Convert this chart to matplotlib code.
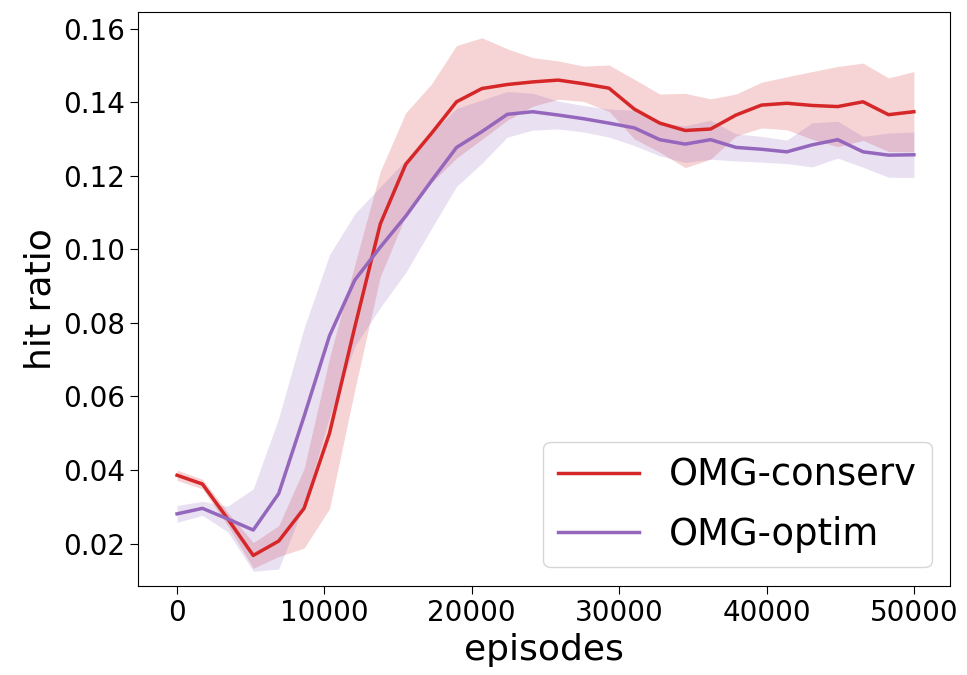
import matplotlib
matplotlib.use("Agg")
import matplotlib.pyplot as plt
import numpy as np

episodes = [0, 1724, 3448, 5172, 6897, 8621, 10345, 12069, 13793, 15517,
            17241, 18966, 20690, 22414, 24138, 25862, 27586, 29310, 31034, 32759,
            34483, 36207, 37931, 39655, 41379, 43103, 44828, 46552, 48276, 50000]

conserv_mean = [0.0386, 0.0362, 0.0267, 0.0168, 0.0207, 0.0296, 0.0500, 0.0790, 0.1069, 0.1231,
                0.1314, 0.1401, 0.1437, 0.1448, 0.1455, 0.1460, 0.1450, 0.1438, 0.1381, 0.1343,
                0.1323, 0.1327, 0.1365, 0.1392, 0.1397, 0.1391, 0.1388, 0.1401, 0.1366, 0.1374]
conserv_std = [0.0014, 0.0013, 0.0018, 0.0035, 0.0042, 0.0108, 0.0205, 0.0170, 0.0143, 0.0140,
               0.0134, 0.0153, 0.0138, 0.0097, 0.0066, 0.0052, 0.0048, 0.0063, 0.0081, 0.0079,
               0.0101, 0.0082, 0.0057, 0.0062, 0.0072, 0.0092, 0.0109, 0.0105, 0.0100, 0.0109]

optim_mean = [0.0281, 0.0296, 0.0267, 0.0237, 0.0336, 0.0546, 0.0765, 0.0917, 0.1006, 0.1090,
              0.1185, 0.1277, 0.1320, 0.1367, 0.1374, 0.1365, 0.1355, 0.1343, 0.1330, 0.1298,
              0.1286, 0.1298, 0.1277, 0.1272, 0.1265, 0.1284, 0.1298, 0.1265, 0.1256, 0.1257]
optim_std = [0.0023, 0.0019, 0.0035, 0.0112, 0.0205, 0.0240, 0.0220, 0.0180, 0.0164, 0.0153,
             0.0130, 0.0106, 0.0086, 0.0062, 0.0050, 0.0038, 0.0036, 0.0038, 0.0048, 0.0044,
             0.0050, 0.0053, 0.0037, 0.0035, 0.0032, 0.0060, 0.0050, 0.0042, 0.0060, 0.0062]

labels = ["OMG-conserv", "OMG-optim"]
colors = ["#d62728", "#9467bd"]

fig = plt.figure(figsize=(9.67, 6.75), dpi=100)
ax = fig.add_axes([0.1427, 0.1319, 0.8397, 0.8503])

x = np.array(episodes)
for mean, std, lab, col in [(conserv_mean, conserv_std, labels[0], colors[0]),
                            (optim_mean, optim_std, labels[1], colors[1])]:
    m = np.array(mean)
    s = np.array(std)
    ax.plot(x, m, color=col, lw=2.5, label=lab)
    ax.fill_between(x, m - s, m + s, color=col, alpha=0.2, lw=0)

ax.set_xlim(-2650, 52450)
ax.set_ylim(0.0085, 0.1645)
ax.set_yticks([0.02, 0.04, 0.06, 0.08, 0.10, 0.12, 0.14, 0.16])
ax.set_xticks([0, 10000, 20000, 30000, 40000, 50000])
ax.tick_params(labelsize=20, length=6)
ax.set_xlabel("episodes", fontsize=26)
ax.set_ylabel("hit ratio", fontsize=26)
ax.legend(loc="lower right", fontsize=26.6, borderaxespad=0.5,
          handlelength=2.2, labelspacing=0.6)

fig.savefig("out.png", dpi=100)
